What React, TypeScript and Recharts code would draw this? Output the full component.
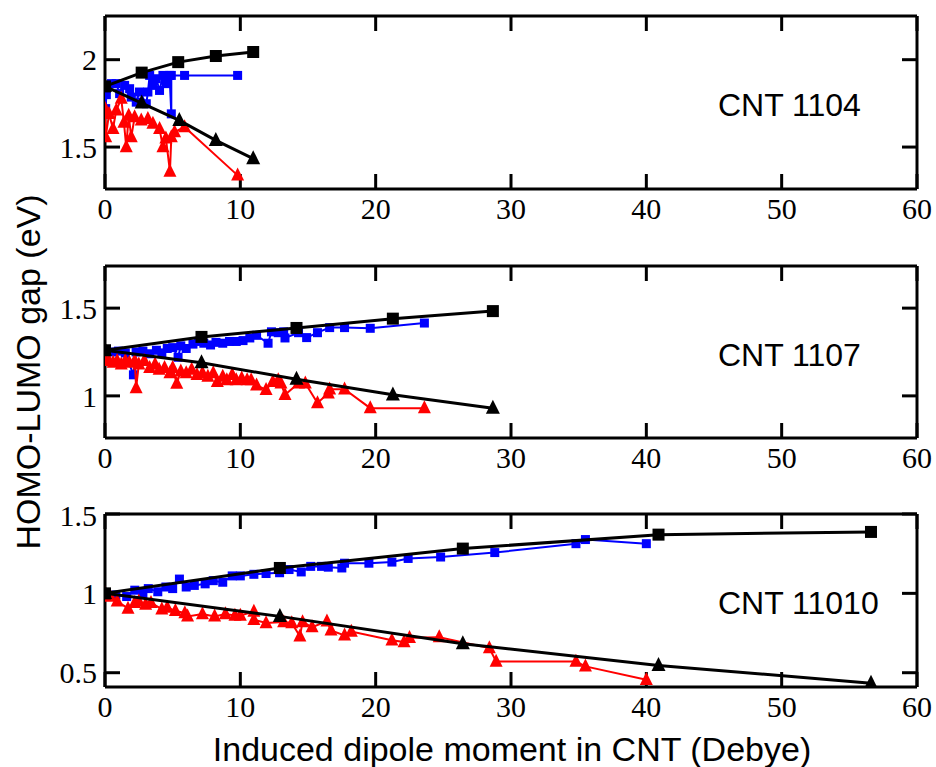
import React from 'react';
import { ScatterChart, Scatter, XAxis, YAxis } from 'recharts';

type Pt = [number, number];

const xTicks = [0, 10, 20, 30, 40, 50, 60];

// CNT 1104
const yTicks1104 = [1.5, 2];
const sq1104: Pt[] = [[0, 1.847], [2.71, 1.926], [5.41, 1.986], [8.19, 2.021], [10.95, 2.044]];
const tri1104: Pt[] = [[0, 1.847], [2.71, 1.752], [5.49, 1.653], [8.19, 1.538], [10.95, 1.434]];
const blue1104: Pt[] = [
  [0, 1.847], [0.05, 1.72], [0.1, 1.8], [0.47, 1.863], [0.83, 1.863], [1.08, 1.806],
  [1.45, 1.853], [1.82, 1.834], [1.94, 1.786], [2.31, 1.757], [2.55, 1.815], [3.05, 1.748],
  [3.17, 1.815], [3.3, 1.91], [3.54, 1.853], [3.79, 1.891], [4.03, 1.824], [4.28, 1.91],
  [4.53, 1.863], [4.77, 1.91], [4.9, 1.69], [4.9, 1.91], [5.88, 1.91], [9.8, 1.91],
];
const red1104: Pt[] = [
  [0, 1.72], [0.05, 1.557], [0.3, 1.69], [0.59, 1.605], [0.83, 1.71], [1.2, 1.777],
  [1.4, 1.64], [1.57, 1.5], [1.75, 1.68], [1.94, 1.557], [2.19, 1.672], [2.68, 1.653],
  [3.17, 1.662], [3.54, 1.634], [4.03, 1.605], [4.28, 1.5], [4.5, 1.55], [4.8, 1.36],
  [4.9, 1.557], [5.14, 1.586], [5.88, 1.615], [9.8, 1.338],
];

// CNT 1107
const yTicks1107 = [1, 1.5];
const sq1107: Pt[] = [[0, 1.26], [7.13, 1.336], [14.15, 1.387], [21.27, 1.44], [28.66, 1.483]];
const tri1107: Pt[] = [[0, 1.26], [7.13, 1.189], [14.15, 1.095], [21.27, 1.006], [28.66, 0.93]];
const blue1107: Pt[] = [
  [0, 1.255], [0.5, 1.25], [1.0, 1.255], [1.5, 1.245], [2.1, 1.12], [2.3, 1.25], [2.8, 1.255],
  [3.3, 1.24], [3.8, 1.26], [4.2, 1.245], [4.6, 1.27], [5.0, 1.275], [5.4, 1.22], [5.6, 1.285],
  [6.0, 1.27], [6.5, 1.295], [6.9, 1.31], [7.3, 1.3], [7.8, 1.29], [8.2, 1.305], [8.7, 1.3],
  [9.2, 1.31], [9.7, 1.31], [10.2, 1.315], [10.7, 1.33], [11.2, 1.345], [12.05, 1.3],
  [12.3, 1.365], [12.8, 1.36], [13.2, 1.365], [13.3, 1.33], [14.3, 1.36], [14.9, 1.332],
  [15.7, 1.36], [16.6, 1.389], [17.7, 1.389], [19.6, 1.385], [23.6, 1.415],
];
const red1107: Pt[] = [
  [0, 1.21], [0.3, 1.2], [0.6, 1.19], [0.9, 1.2], [1.2, 1.18], [1.5, 1.2], [1.8, 1.19],
  [2.2, 1.2], [2.3, 1.045], [2.5, 1.18], [2.9, 1.2], [3.3, 1.16], [3.7, 1.18], [4.0, 1.15],
  [4.4, 1.16], [4.8, 1.13], [5.0, 1.16], [5.3, 1.07], [5.6, 1.14], [6.0, 1.13], [6.4, 1.15],
  [6.8, 1.12], [7.2, 1.13], [7.6, 1.11], [8.0, 1.13], [8.3, 1.08], [8.7, 1.11], [9.0, 1.09],
  [9.4, 1.12], [9.7, 1.09], [10.1, 1.1], [10.5, 1.09], [10.8, 1.09], [11.2, 1.06],
  [11.9, 1.035], [12.4, 1.08], [12.8, 1.09], [13.0, 1.072], [13.3, 1.006], [14.3, 1.072],
  [14.8, 1.072], [15.7, 0.959], [16.5, 1.015], [16.6, 1.038], [17.7, 1.038], [19.6, 0.93],
  [23.6, 0.93],
];

// CNT 11010
const yTicks11010 = [0.5, 1, 1.5];
const sq11010: Pt[] = [[0, 1], [12.92, 1.16], [26.44, 1.282], [40.9, 1.37], [56.6, 1.387]];
const tri11010: Pt[] = [[0, 1], [12.92, 0.855], [26.44, 0.683], [40.9, 0.546], [56.6, 0.434]];
const blue11010: Pt[] = [
  [0, 1], [0.8, 0.99], [1.6, 0.98], [2.2, 1.02], [2.8, 1.0], [3.2, 1.03], [3.9, 1.01],
  [4.5, 1.04], [5.0, 1.03], [5.5, 1.09], [6.0, 1.04], [6.6, 1.05], [7.4, 1.06], [8.0, 1.08],
  [8.7, 1.07], [9.4, 1.11], [10.0, 1.11], [11.0, 1.12], [11.9, 1.125], [12.9, 1.13],
  [13.6, 1.15], [14.5, 1.135], [15.2, 1.17], [16.0, 1.17], [16.5, 1.165], [17.5, 1.16],
  [17.7, 1.19], [19.5, 1.19], [21.2, 1.197], [22.4, 1.22], [24.8, 1.229], [28.8, 1.257],
  [34.8, 1.313], [35.5, 1.339], [40.0, 1.313],
];
const red11010: Pt[] = [
  [0, 1], [0.4, 0.98], [0.9, 0.95], [1.7, 0.905], [2.2, 0.94], [2.5, 0.95], [3.0, 0.93],
  [3.4, 0.94], [4.2, 0.9], [4.6, 0.91], [5.2, 0.89], [5.9, 0.876], [6.1, 0.855], [7.2, 0.87],
  [8.1, 0.855], [8.9, 0.87], [9.6, 0.86], [10.0, 0.86], [11.0, 0.885], [11.0, 0.834],
  [11.9, 0.813], [13.2, 0.82], [13.8, 0.813], [14.4, 0.73], [14.6, 0.82], [15.3, 0.787],
  [16.4, 0.824], [16.7, 0.767], [17.7, 0.735], [18.2, 0.76], [21.2, 0.704], [22.1, 0.693],
  [22.5, 0.72], [24.7, 0.724], [28.4, 0.655], [28.9, 0.571], [34.8, 0.571], [35.5, 0.54],
  [40.0, 0.456],
];

const toPts = (arr: Pt[]) => arr.map(([x, y]) => ({ x, y }));

const square = (s: number) => (p: any) => (
  <rect x={p.cx - s / 2} y={p.cy - s / 2} width={s} height={s} fill={p.fill} />
);
const triangle = (s: number) => (p: any) => (
  <polygon
    points={`${p.cx},${p.cy - s * 0.6} ${p.cx - s / 2},${p.cy + s * 0.4} ${p.cx + s / 2},${p.cy + s * 0.4}`}
    fill={p.fill}
  />
);

const serifTick = { fill: '#000', fontSize: 30, fontFamily: '"Liberation Serif", "Times New Roman", serif' };
const frame = { stroke: '#000', strokeWidth: 3 };
const noLabel = () => <g />;

interface PanelProps {
  top: number;
  height: number;
  domain: [number, number];
  yTicks: number[];
  sq: Pt[];
  tri: Pt[];
  blue: Pt[];
  red: Pt[];
}

const Panel: React.FC<PanelProps> = ({ top, height, domain, yTicks, sq, tri, blue, red }) => (
  <div style={{ position: 'absolute', left: 0, top }}>
    <ScatterChart width={936} height={height} margin={{ top: 15, right: 18, bottom: 0, left: 45 }}>
      <XAxis
        type="number"
        dataKey="x"
        domain={[0, 60]}
        ticks={xTicks}
        allowDataOverflow
        height={40}
        axisLine={frame}
        tickLine={frame}
        tickSize={-15}
        tickMargin={24}
        tick={serifTick}
      />
      <XAxis
        xAxisId="top"
        orientation="top"
        type="number"
        dataKey="x"
        domain={[0, 60]}
        ticks={xTicks}
        allowDataOverflow
        height={1}
        axisLine={frame}
        tickLine={frame}
        tickSize={-15}
        tick={noLabel}
      />
      <YAxis
        type="number"
        dataKey="y"
        domain={domain}
        ticks={yTicks}
        allowDataOverflow
        width={60}
        axisLine={frame}
        tickLine={frame}
        tickSize={-15}
        tickMargin={23}
        tick={serifTick}
      />
      <YAxis
        yAxisId="right"
        orientation="right"
        type="number"
        dataKey="y"
        domain={domain}
        ticks={yTicks}
        allowDataOverflow
        width={1}
        axisLine={frame}
        tickLine={frame}
        tickSize={-15}
        tick={noLabel}
      />
      <Scatter data={toPts(blue)} fill="#0000ff" line={{ stroke: '#0000ff', strokeWidth: 2 }} lineType="joint" shape={square(9)} isAnimationActive={false} />
      <Scatter data={toPts(red)} fill="#ff0000" line={{ stroke: '#ff0000', strokeWidth: 2 }} lineType="joint" shape={triangle(13)} isAnimationActive={false} />
      <Scatter data={toPts(sq)} fill="#000" line={{ stroke: '#000', strokeWidth: 3 }} lineType="joint" shape={square(12)} isAnimationActive={false} />
      <Scatter data={toPts(tri)} fill="#000" line={{ stroke: '#000', strokeWidth: 3 }} lineType="joint" shape={triangle(14)} isAnimationActive={false} />
    </ScatterChart>
  </div>
);

const sans = '"Liberation Sans", Arial, Helvetica, sans-serif';

const cntLabel = (text: string, left: number, top: number) => (
  <div style={{ position: 'absolute', left, top, fontFamily: sans, fontSize: 32, lineHeight: '32px', color: '#000', whiteSpace: 'nowrap' }}>
    {text}
  </div>
);

export default function App() {
  return (
    <div style={{ position: 'absolute', left: 0, top: 0, width: 936, height: 767, background: '#fff', overflow: 'hidden' }}>
      <Panel top={0} height={229} domain={[1.26, 2.25]} yTicks={yTicks1104} sq={sq1104} tri={tri1104} blue={blue1104} red={red1104} />
      <Panel top={250} height={228} domain={[0.76, 1.74]} yTicks={yTicks1107} sq={sq1107} tri={tri1107} blue={blue1107} red={red1107} />
      <Panel top={498} height={229} domain={[0.41, 1.5]} yTicks={yTicks11010} sq={sq11010} tri={tri11010} blue={blue11010} red={red11010} />
      {cntLabel('CNT 1104', 718, 89)}
      {cntLabel('CNT 1107', 718, 339)}
      {cntLabel('CNT 11010', 718, 587)}
      <div
        style={{
          position: 'absolute', left: 28, top: 372, transform: 'translate(-50%, -50%) rotate(-90deg)',
          fontFamily: sans, fontSize: 34, lineHeight: '34px', whiteSpace: 'nowrap', color: '#000',
        }}
      >
        HOMO-LUMO gap (eV)
      </div>
      <div
        style={{
          position: 'absolute', left: 512, top: 749, transform: 'translate(-50%, -50%)',
          fontFamily: sans, fontSize: 34, lineHeight: '34px', whiteSpace: 'nowrap', color: '#000',
        }}
      >
        Induced dipole moment in CNT (Debye)
      </div>
    </div>
  );
}
